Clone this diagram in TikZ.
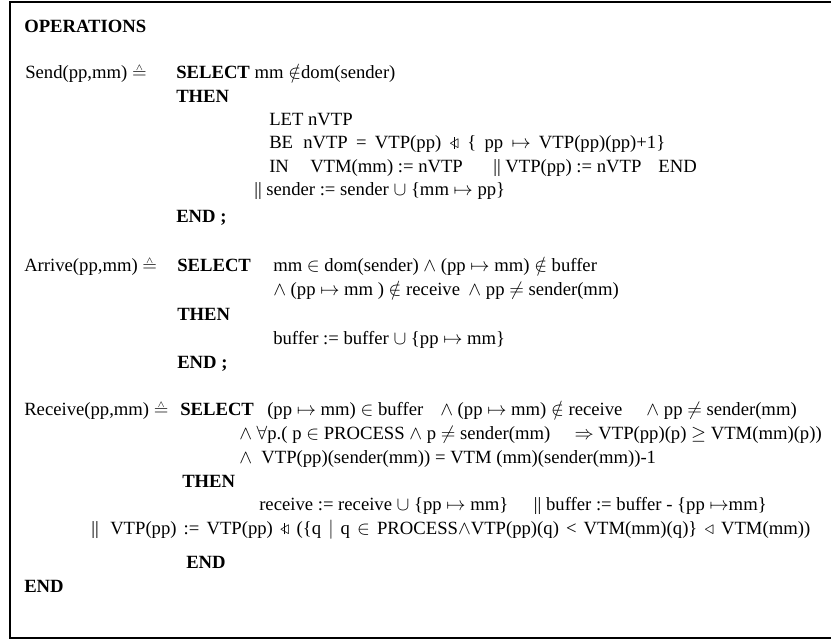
\documentclass[tikz,border=0pt]{standalone}
\usepackage{amssymb}
\usepackage{fontspec}
\setmainfont{Liberation Serif}
\newcommand{\deq}{\mathrel{\ooalign{$=$\cr\hfil\raisebox{0.85ex}{$\scriptscriptstyle\wedge$}\hfil\cr}}}
\newcommand{\ovr}{\mathrel{\ooalign{$\triangleleft$\cr\hidewidth\vrule height 1.3ex depth 0.05ex width 0.5pt\hidewidth\cr}}}
\tikzset{
  txt/.style={anchor=base west, inner sep=0pt, font=\fontsize{14}{17}\selectfont},
  txtr/.style={anchor=base east, inner sep=0pt, font=\fontsize{14}{17}\selectfont},
  frame/.style={line width=1.5pt, black}
}
\begin{document}
\begin{tikzpicture}[x=0.75pt, y=-0.75pt]
\useasboundingbox (0,0) rectangle (831,640);
\draw[frame] (834,2) -- (10,2) -- (10,638) -- (834,638);
% title
\node[txt] (ops) at (24,32) {\textbf{OPERATIONS}};
% Send
\node[txt] (s1) at (25,78) {Send(pp,mm) $\deq$};
\node[txt] (s2) at (176,78) {\textbf{SELECT} mm $\notin$dom(sender)};
\node[txt] (s3) at (176,102) {\textbf{THEN}};
\node[txt] (s4) at (269,125) {LET nVTP};
\node[txt] (s5) at (269,148.5) {BE};
\node[txt] (s6) at (303,148.5) {\makebox[271.5pt][s]{nVTP = VTP(pp) $\ovr$ \{ pp $\mapsto$ VTP(pp)(pp)+1\}}};
\node[txt] (s7) at (269,172) {IN};
\node[txt] (s8) at (310,172) {VTM(mm) := nVTP};
\node[txt] (s9) at (493,172) {|| VTP(pp) := nVTP};
\node[txtr] (s10) at (697,172) {END};
\node[txt] (s11) at (254,195) {|| sender := sender $\cup$ \{mm $\mapsto$ pp\}};
\node[txt] (s12) at (176,222) {\textbf{END ;}};
% Arrive
\node[txt] (a1) at (24,271) {Arrive(pp,mm) $\deq$};
\node[txt] (a2) at (177,271) {\textbf{SELECT}};
\node[txt] (a3) at (273,271) {mm $\in$ dom(sender) $\wedge$ (pp $\mapsto$ mm) $\notin$ buffer};
\node[txt] (a4) at (273,295) {$\wedge$ (pp $\mapsto$ mm ) $\notin$ receive};
\node[txtr] (a5) at (619,295) {$\wedge$ pp $\neq$ sender(mm)};
\node[txt] (a6) at (177,320) {\textbf{THEN}};
\node[txt] (a7) at (273,344) {buffer := buffer $\cup$ \{pp $\mapsto$ mm\}};
\node[txt] (a8) at (177,368) {\textbf{END ;}};
% Receive
\node[txt] (r1) at (24,415) {Receive(pp,mm) $\deq$};
\node[txt] (r2) at (180,415) {\textbf{SELECT}};
\node[txt] (r3) at (267,415) {(pp $\mapsto$ mm) $\in$ buffer};
\node[txt] (r4) at (440,415) {$\wedge$ (pp $\mapsto$ mm) $\notin$ receive};
\node[txtr] (r5) at (797,415) {$\wedge$ pp $\neq$ sender(mm)};
\node[txt] (r6) at (239,439) {$\wedge$ $\forall$p.( p $\in$ PROCESS $\wedge$ p $\neq$ sender(mm)};
\node[txtr] (r7) at (822,439) {$\Rightarrow$ VTP(pp)(p) $\geq$ VTM(mm)(p))};
\node[txt] (r8) at (239,463) {$\wedge$\ \ VTP(pp)(sender(mm)) = VTM (mm)(sender(mm))-1};
\node[txt] (r9) at (182,487) {\textbf{THEN}};
\node[txt] (r10) at (259,510) {receive := receive $\cup$ \{pp $\mapsto$ mm\}};
\node[txtr] (r11) at (767,510) {|| buffer := buffer - \{pp $\mapsto$mm\}};
\node[txt] (r12) at (91,534) {||};
\node[txt] (r13) at (110,534) {\makebox[525pt][s]{VTP(pp) := VTP(pp) $\ovr$ (\{q $\big|$ q $\in$ PROCESS$\wedge$VTP(pp)(q) < VTM(mm)(q)\} $\triangleleft$ VTM(mm))}};
\node[txt] (r14) at (186,568) {\textbf{END}};
\node[txt] (e) at (24,592) {\textbf{END}};
\end{tikzpicture}
\end{document}
